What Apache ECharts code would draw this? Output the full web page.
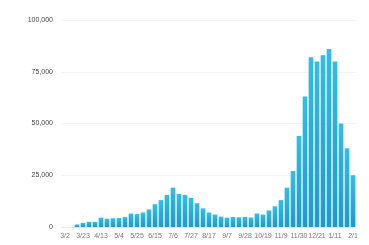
<!DOCTYPE html>
<html>
<head>
<meta charset="utf-8">
<script src="https://cdn.jsdelivr.net/npm/echarts@6/dist/echarts.min.js"></script>
<style>
  html, body { margin: 0; padding: 0; background: #fff; }
  #chart { width: 369px; height: 245px; }
</style>
</head>
<body>
<div id="chart"></div>
<script>
// 周次（每周一）
const weeks = [
  '3/2', '3/9', '3/16', '3/23', '3/30', '4/6', '4/13', '4/20', '4/27', '5/4',
  '5/11', '5/18', '5/25', '6/1', '6/8', '6/15', '6/22', '6/29', '7/6', '7/13',
  '7/20', '7/27', '8/3', '8/10', '8/17', '8/24', '8/31', '9/7', '9/14', '9/21',
  '9/28', '10/5', '10/12', '10/19', '10/26', '11/2', '11/9', '11/16', '11/23', '11/30',
  '12/7', '12/14', '12/21', '12/28', '1/4', '1/11', '1/18', '1/25', '2/1'
]
// 每周新增
const cases = [
  0, 0, 1200, 2000, 2500, 2500, 4500, 4000, 4200, 4300,
  4800, 6500, 6200, 7000, 8500, 11000, 13000, 15500, 19000, 16000,
  15500, 14000, 11500, 9000, 7000, 6000, 5000, 4500, 4800, 4700,
  4900, 4600, 6500, 6000, 8000, 10000, 13000, 19000, 27000, 44000,
  63000, 82000, 80000, 83000, 86000, 80000, 50000, 38000, 25000
]
// y轴刻度
const yTicks = [0, 25000, 50000, 75000, 100000]

const option = {
  animation: false,
  grid: { left: 62, right: 13, top: 20, bottom: 18 },
  xAxis: {
    type: 'category',
    data: weeks,
    axisLine: { lineStyle: { color: '#e6e6e6' } },
    axisTick: { show: false },
    axisLabel: { interval: 2, fontSize: 7, color: '#777', margin: 6 },
  },
  yAxis: {
    type: 'value',
    min: yTicks[0],
    max: yTicks[yTicks.length - 1],
    interval: yTicks[1] - yTicks[0],
    axisLabel: { fontSize: 7, color: '#444', margin: 9 },
    splitLine: { lineStyle: { color: '#f4f4f4' } },
  },
  series: [
    {
      type: 'bar',
      data: cases,
      barCategoryGap: '22%',
      itemStyle: {
        color: new echarts.graphic.LinearGradient(0, 0, 0, 1, [
          { offset: 0, color: '#33bde6' },
          { offset: 1, color: '#1a9ad3' },
        ]),
      },
    },
  ],
}
echarts.init(document.getElementById('chart')).setOption(option)
</script>
</body>
</html>
